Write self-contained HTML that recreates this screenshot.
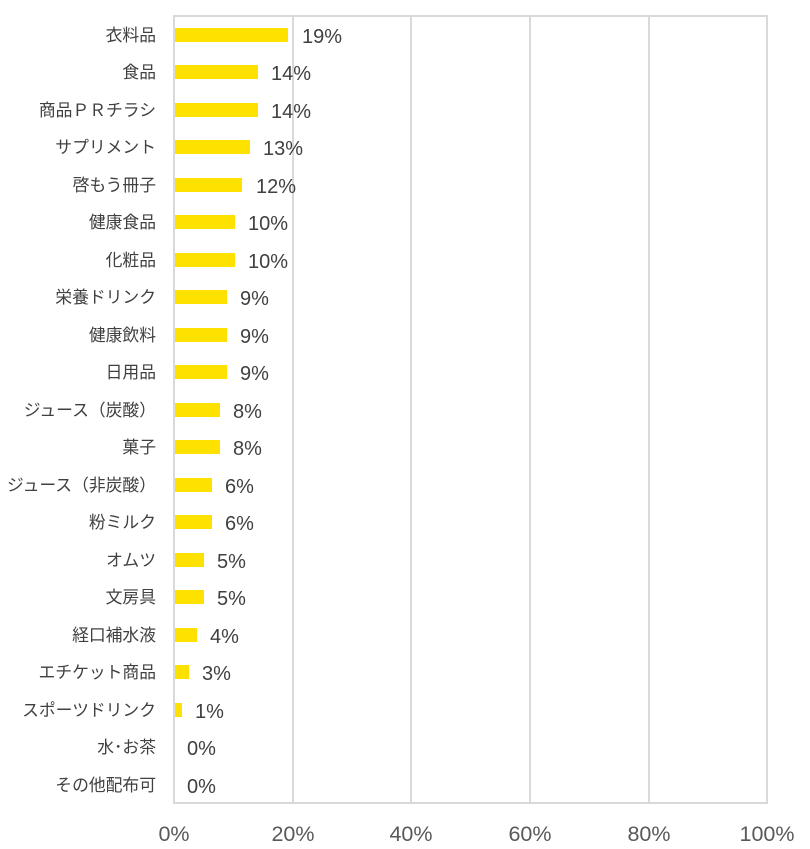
<!DOCTYPE html>
<html><head><meta charset="utf-8"><style>
body{margin:0;background:#fff;}
svg{display:block;}
.c{font-family:"Liberation Sans","Noto Sans CJK JP",sans-serif;font-size:16.8px;fill:#404040;}
.v{font-family:"Liberation Sans","Noto Sans CJK JP",sans-serif;font-size:20px;fill:#404040;}
.a{font-family:"Liberation Sans",sans-serif;font-size:21.5px;fill:#595959;}
</style></head><body>
<svg width="810" height="849" viewBox="0 0 810 849">
<g stroke="#d9d9d9" stroke-width="2" fill="none">
<rect x="174" y="16" width="593" height="787"/>
<line x1="293" y1="16" x2="293" y2="803"/>
<line x1="411" y1="16" x2="411" y2="803"/>
<line x1="530" y1="16" x2="530" y2="803"/>
<line x1="649" y1="16" x2="649" y2="803"/>
</g>
<g fill="#FFE100">
<rect x="175" y="28" width="113" height="14"/>
<rect x="175" y="65" width="83" height="14"/>
<rect x="175" y="103" width="83" height="14"/>
<rect x="175" y="140" width="75" height="14"/>
<rect x="175" y="178" width="67" height="14"/>
<rect x="175" y="215" width="60" height="14"/>
<rect x="175" y="253" width="60" height="14"/>
<rect x="175" y="290" width="52" height="14"/>
<rect x="175" y="328" width="52" height="14"/>
<rect x="175" y="365" width="52" height="14"/>
<rect x="175" y="403" width="45" height="14"/>
<rect x="175" y="440" width="45" height="14"/>
<rect x="175" y="478" width="37" height="14"/>
<rect x="175" y="515" width="37" height="14"/>
<rect x="175" y="553" width="29" height="14"/>
<rect x="175" y="590" width="29" height="14"/>
<rect x="175" y="628" width="22" height="14"/>
<rect x="175" y="665" width="14" height="14"/>
<rect x="175" y="703" width="7" height="14"/>
</g>
<g class="c" text-anchor="end">
<text x="156" y="41">衣料品</text>
<text x="156" y="78">食品</text>
<text x="156" y="116">商品ＰＲチラシ</text>
<text x="156" y="153">サプリメント</text>
<text x="156" y="191">啓もう冊子</text>
<text x="156" y="228">健康食品</text>
<text x="156" y="266">化粧品</text>
<text x="156" y="303">栄養ドリンク</text>
<text x="156" y="341">健康飲料</text>
<text x="156" y="378">日用品</text>
<text x="156" y="416">ジュース（炭酸）</text>
<text x="156" y="453">菓子</text>
<text x="156" y="491">ジュース（非炭酸）</text>
<text x="156" y="528">粉ミルク</text>
<text x="156" y="566">オムツ</text>
<text x="156" y="603">文房具</text>
<text x="156" y="641">経口補水液</text>
<text x="156" y="678">エチケット商品</text>
<text x="156" y="716">スポーツドリンク</text>
<text x="156" y="753">水･お茶</text>
<text x="156" y="791">その他配布可</text>
</g>
<g class="v">
<text x="302" y="43">19%</text>
<text x="271" y="80">14%</text>
<text x="271" y="118">14%</text>
<text x="263" y="155">13%</text>
<text x="256" y="193">12%</text>
<text x="248" y="230">10%</text>
<text x="248" y="268">10%</text>
<text x="240" y="305">9%</text>
<text x="240" y="343">9%</text>
<text x="240" y="380">9%</text>
<text x="233" y="418">8%</text>
<text x="233" y="455">8%</text>
<text x="225" y="493">6%</text>
<text x="225" y="530">6%</text>
<text x="217" y="568">5%</text>
<text x="217" y="605">5%</text>
<text x="210" y="643">4%</text>
<text x="202" y="680">3%</text>
<text x="195" y="718">1%</text>
<text x="187" y="755">0%</text>
<text x="187" y="793">0%</text>
</g>
<g class="a" text-anchor="middle">
<text x="174" y="841">0%</text>
<text x="293" y="841">20%</text>
<text x="411" y="841">40%</text>
<text x="530" y="841">60%</text>
<text x="649" y="841">80%</text>
<text x="767" y="841">100%</text>
</g>
</svg>
</body></html>
